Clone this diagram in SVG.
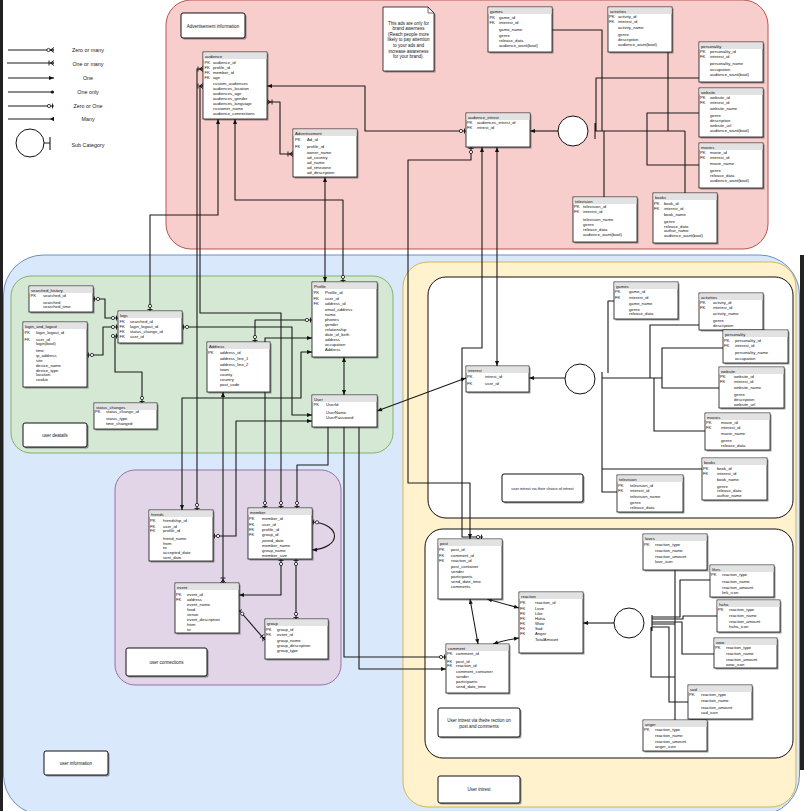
<svg xmlns="http://www.w3.org/2000/svg" width="804" height="811" viewBox="0 0 804 811">
<style>
.t{font-family:"Liberation Sans",Arial,sans-serif;font-size:4.2px;fill:#111}
.lb{font-family:"Liberation Sans",Arial,sans-serif;font-size:4.5px;fill:#111;text-anchor:middle}
.lg{font-family:"Liberation Sans",Arial,sans-serif;font-size:5.4px;fill:#222;text-anchor:middle}
.tb{fill:#fff;stroke:#111;stroke-width:0.8}
.hd{fill:#e2e2e2}
.sh{fill:#444;opacity:0.55}
.bx{fill:#fff;stroke:#111;stroke-width:1}
.c{fill:none;stroke:#1a1a1a;stroke-width:1.1;stroke-linejoin:round}
.ci{fill:#fff;stroke:#111;stroke-width:1}
</style>
<defs>
<marker id="zo" viewBox="0 -3 8 6" refX="8" refY="0" markerWidth="8" markerHeight="6" markerUnits="userSpaceOnUse" orient="auto-start-reverse"><circle cx="3" cy="0" r="1.6" fill="#fff" stroke="#111" stroke-width="0.8"/><path d="M6.5,-2.5V2.5" stroke="#111" stroke-width="0.9"/></marker>
<marker id="om" viewBox="0 -3 8 6" refX="8" refY="0" markerWidth="8" markerHeight="6" markerUnits="userSpaceOnUse" orient="auto-start-reverse"><path d="M3,-2.5V2.5M4.5,0L8,-2.5M4.5,0L8,2.5M4.5,0H8" stroke="#111" stroke-width="0.9" fill="none"/></marker>
<marker id="zm" viewBox="0 -3 8 6" refX="8" refY="0" markerWidth="8" markerHeight="6" markerUnits="userSpaceOnUse" orient="auto-start-reverse"><circle cx="2.5" cy="0" r="1.6" fill="#fff" stroke="#111" stroke-width="0.8"/><path d="M4.5,0L8,-2.5M4.5,0L8,2.5M4.5,0H8" stroke="#111" stroke-width="0.9" fill="none"/></marker>
<marker id="ar" viewBox="0 -3 8 6" refX="8" refY="0" markerWidth="8" markerHeight="6" markerUnits="userSpaceOnUse" orient="auto-start-reverse"><path d="M3,-2L8,0L3,2z" fill="#111"/></marker>
<marker id="dt" viewBox="0 -3 8 6" refX="8" refY="0" markerWidth="8" markerHeight="6" markerUnits="userSpaceOnUse" orient="auto-start-reverse"><circle cx="6.3" cy="0" r="1.6" fill="#111"/></marker>
<marker id="mn" viewBox="0 -3 8 6" refX="8" refY="0" markerWidth="8" markerHeight="6" markerUnits="userSpaceOnUse" orient="auto-start-reverse"><path d="M8,-2.2L4,0L8,2.2z" fill="#111"/></marker>
</defs>
<rect x="0" y="0" width="804" height="811" fill="#fff"/>
<rect x="0" y="0" width="3" height="811" fill="#222"/>
<rect x="800" y="255" width="4" height="515" fill="#222"/>

<g id="regions">
<rect x="166" y="0" width="602" height="249" rx="25" fill="#f8cecc" stroke="#b85450"/>
<rect x="3.5" y="255" width="796" height="560" rx="40" fill="#dae8fc" stroke="#6c8ebf"/>
<rect x="11" y="276" width="382" height="177" rx="20" fill="#d5e8d4" stroke="#82b366"/>
<rect x="115" y="470" width="226" height="215" rx="20" fill="#e1d5e7" stroke="#9673a6"/>
<rect x="403" y="262" width="393" height="545" rx="25" fill="#fff2cc" stroke="#d6b656"/>
<rect x="428" y="277" width="365" height="241" rx="18" fill="#fff" stroke="#111"/>
<rect x="425" y="529" width="368" height="229" rx="18" fill="#fff" stroke="#111"/>
</g>

<g id="legend">
<path class="c" d="M8,50H54" marker-end="url(#zm)"/>
<path class="c" d="M7,63H54" marker-end="url(#om)"/>
<path class="c" d="M8,78H54" marker-end="url(#ar)"/>
<path class="c" d="M8,92H54" marker-end="url(#dt)"/>
<path class="c" d="M8,106H54" marker-end="url(#zo)"/>
<path class="c" d="M8,119H54" marker-end="url(#mn)"/>
<text class="lg" x="88" y="52">Zero or many</text>
<text class="lg" x="88" y="65.5">One or many</text>
<text class="lg" x="88" y="79.5">One</text>
<text class="lg" x="88" y="94">One only</text>
<text class="lg" x="88" y="108">Zero or One</text>
<text class="lg" x="88" y="121">Many</text>
<circle class="ci" cx="30" cy="143" r="14"/>
<path class="c" d="M44,143H50M50,137V150"/>
<text class="lg" x="88" y="147">Sub Category</text>
</g>

<g id="connectors">
<path class="c" d="M267,86H365V131H466" marker-start="url(#ar)" marker-end="url(#zo)"/>
<path class="c" d="M267,102H280V154H293" marker-start="url(#om)" marker-end="url(#om)"/>
<path class="c" d="M218,119V215H150V311" marker-start="url(#ar)" marker-end="url(#zo)"/>
<path class="c" d="M235,119V200H343V282" marker-start="url(#ar)" marker-end="url(#zo)"/>
<path class="c" d="M325,177V282" marker-start="url(#ar)" marker-end="url(#ar)"/>
<path class="c" d="M203,69H197V510" marker-start="url(#om)" marker-end="url(#zo)"/>
<path class="c" d="M203,86H200V313H281V508" marker-start="url(#om)" marker-end="url(#zo)"/>
<path class="c" d="M558,131H530" marker-end="url(#ar)"/>
<path class="c" d="M595,123V139M595,131H685M552,30H602V131M668,52V131M699,78H596V131M699,113H647V165H699M604,197V131M685,193V131"/>
<path class="c" d="M471,147V160H408V483H470V539" marker-start="url(#zo)" marker-end="url(#ar)"/>
<path class="c" d="M482,147V348H462V537H483" marker-start="url(#ar)" marker-end="url(#zo)"/>
<path class="c" d="M497,147V366" marker-start="url(#ar)" marker-end="url(#ar)"/>
<path class="c" d="M93,299H105V318H118" marker-start="url(#zo)" marker-end="url(#zo)"/>
<path class="c" d="M87,355H103V327H118" marker-start="url(#zo)" marker-end="url(#zo)"/>
<path class="c" d="M118,336H115V372H142V403" marker-start="url(#zo)" marker-end="url(#zo)"/>
<path class="c" d="M182,327H292V415H312" marker-start="url(#zo)" marker-end="url(#ar)"/>
<path class="c" d="M312,320H255V342" marker-start="url(#zo)" marker-end="url(#zo)"/>
<path class="c" d="M312,338H265V508" marker-start="url(#ar)" marker-end="url(#zo)"/>
<path class="c" d="M312,352H301V398H182V510" marker-start="url(#ar)" marker-end="url(#ar)"/>
<path class="c" d="M344,357V395" marker-start="url(#ar)" marker-end="url(#ar)"/>
<path class="c" d="M223,392V583" marker-start="url(#ar)" marker-end="url(#om)"/>
<path class="c" d="M312,421H236V536H213" marker-start="url(#ar)" marker-end="url(#zo)"/>
<path class="c" d="M328,427V465H297V508" marker-end="url(#zo)"/>
<path class="c" d="M344,427V657H446" marker-end="url(#zo)"/>
<path class="c" d="M359,427V669H446" marker-end="url(#ar)"/>
<path class="c" d="M377,411L466,378" marker-start="url(#ar)" marker-end="url(#ar)"/>
<path class="c" d="M312,522C342,524 342,548 312,550" marker-start="url(#zo)" marker-end="url(#ar)"/>
<path class="c" d="M281,559V595H239" marker-start="url(#zo)" marker-end="url(#ar)"/>
<path class="c" d="M296,559V619" marker-start="url(#zo)" marker-end="url(#zo)"/>
<path class="c" d="M239,610L265,640" marker-start="url(#zo)" marker-end="url(#om)"/>
<path class="c" d="M565,378H529" marker-end="url(#ar)"/>
<path class="c" d="M602,372V386M602,378H662M614,301H608V373M699,325H650V378M723,348H662V388H719M705,431H654V378M702,469H602M617,492H602V378"/>
<path class="c" d="M470,599L478,644" marker-start="url(#ar)" marker-end="url(#ar)"/>
<path class="c" d="M487,599L519,608" marker-start="url(#ar)" marker-end="url(#ar)"/>
<path class="c" d="M493,644Q505,640 519,638" marker-start="url(#ar)" marker-end="url(#ar)"/>
<path class="c" d="M614,623H583" marker-end="url(#ar)"/>
<path class="c" d="M652,615V631M675,570V720M710,580H680V617H652M717,616H683V619H652M714,654H682V622H652M688,702H669V627H652M652,624H675M651,627V677H675"/>
<circle class="ci" cx="573" cy="131" r="15"/>
<circle class="ci" cx="580" cy="379" r="15"/>
<circle class="ci" cx="629" cy="623" r="15"/>
</g>

<g id="labels">
<rect class="sh" x="182.5" y="14.5" width="64" height="25" rx="2"/><rect class="bx" x="181" y="13" width="64" height="25" rx="2"/><text class="lb" x="213" y="27.5">Advertisement information</text>
<path class="sh" d="M384.5,8.5H429.5L435.5,14.5V72.5H384.5Z"/><path d="M383,7H428L434,13V71H383Z" fill="#fff" stroke="#111" stroke-width="0.8"/><path d="M428,7V13H434" fill="none" stroke="#111" stroke-width="0.6"/>
<text class="lb" x="408.5" y="25">This ads are only for</text>
<text class="lb" x="408.5" y="30">brand awerness</text>
<text class="lb" x="408.5" y="36">(Reach people more</text>
<text class="lb" x="408.5" y="41">likely to pay attention</text>
<text class="lb" x="408.5" y="46.6">to your ads and</text>
<text class="lb" x="408.5" y="52.6">increase awareness</text>
<text class="lb" x="408.5" y="58">for your brand).</text>
<rect class="sh" x="24.5" y="424.5" width="64" height="24" rx="2"/><rect class="bx" x="23" y="423" width="64" height="24" rx="2"/><text class="lb" x="55" y="436.5">user deatails</text>
<rect class="sh" x="127.5" y="649.5" width="81" height="28" rx="2"/><rect class="bx" x="126" y="648" width="81" height="28" rx="2"/><text class="lb" x="166.5" y="663.5">user connections</text>
<rect class="sh" x="45.5" y="752.5" width="64" height="24" rx="2"/><rect class="bx" x="44" y="751" width="64" height="24" rx="2"/><text class="lb" x="76" y="764.5">user information</text>
<rect class="sh" x="503.5" y="475.5" width="81" height="28" rx="2"/><rect class="bx" x="502" y="474" width="81" height="28" rx="2"/><text class="lb" x="542.5" y="489.5" style="font-size:3.9px">user intrest via their choice of intrest</text>
<rect class="sh" x="439.5" y="709.5" width="82" height="29" rx="2"/><rect class="bx" x="438" y="708" width="82" height="29" rx="2"/><text class="lb" x="479" y="721.6">User intrest via theire rection on</text><text class="lb" x="479" y="727.6">post and comments</text>
<rect class="sh" x="439.5" y="777.5" width="82" height="27" rx="2"/><rect class="bx" x="438" y="776" width="82" height="27" rx="2"/><text class="lb" x="479" y="791">User intrest</text>
</g>

<g id="audience"><rect class="sh" x="204.5" y="53.5" width="64" height="67"/><rect class="tb" x="203" y="52" width="64" height="67"/><rect class="hd" x="203.4" y="52.4" width="63.2" height="6.6"/><text class="t" x="205" y="57.5">audience</text>
<text class="t" x="204.5" y="64">PK</text><text class="t" x="213" y="64">audience_id</text>
<text class="t" x="204.5" y="68.8">FK</text><text class="t" x="213" y="68.8">profile_id</text>
<text class="t" x="204.5" y="73.8">FK</text><text class="t" x="213" y="73.8">member_id</text>
<text class="t" x="204.5" y="78.8">FK</text><text class="t" x="213" y="78.8">age</text>
<text class="t" x="213" y="84.8">custom_audiences</text><text class="t" x="213" y="89.8">audiences_location</text><text class="t" x="213" y="94.8">audiences_age</text><text class="t" x="213" y="99.8">audiences_gender</text><text class="t" x="213" y="104.8">audiences_language</text><text class="t" x="213" y="109.8">customer_name</text><text class="t" x="213" y="114.8">audience_connections</text></g>

<g id="advertisement"><rect class="sh" x="294.5" y="130.5" width="64" height="48"/><rect class="tb" x="293" y="129" width="64" height="48"/><rect class="hd" x="293.4" y="129.4" width="63.2" height="6.6"/><text class="t" x="295" y="134.5">Advertisement</text>
<text class="t" x="295" y="141">PK</text><text class="t" x="307" y="141">Ad_id</text>
<text class="t" x="295" y="147.8">FK</text><text class="t" x="307" y="147.8">profile_id</text>
<text class="t" x="307" y="153.5">owner_name</text><text class="t" x="307" y="158.5">ad_country</text><text class="t" x="307" y="163.5">ad_name</text><text class="t" x="307" y="168.5">ad_timezone</text><text class="t" x="307" y="173.5">ad_description</text></g>

<g id="ad-games"><rect class="sh" x="489.5" y="8.5" width="64" height="45"/><rect class="tb" x="488" y="7" width="64" height="45"/><rect class="hd" x="488.4" y="7.4" width="63.2" height="6.6"/><text class="t" x="490" y="12.5">games</text>
<text class="t" x="489.5" y="18.5">PK</text><text class="t" x="499" y="18.5">game_id</text>
<text class="t" x="489.5" y="23.5">FK</text><text class="t" x="499" y="23.5">interest_id</text>
<text class="t" x="499" y="31">game_name</text><text class="t" x="499" y="36.5">genre</text><text class="t" x="499" y="41.5">release_data</text><text class="t" x="499" y="46.5">audience_want(bool)</text></g>

<g id="audience_intrest"><rect class="sh" x="467.5" y="114.5" width="64" height="34"/><rect class="tb" x="466" y="113" width="64" height="34"/><rect class="hd" x="466.4" y="113.4" width="63.2" height="6.6"/><text class="t" x="468" y="118.5">audience_intrest</text>
<text class="t" x="467" y="124">PK</text><text class="t" x="477" y="124">audiences_intrest_id</text>
<text class="t" x="467" y="129">FK</text><text class="t" x="477" y="129">intrest_id</text></g>

<g id="ad-television"><rect class="sh" x="574.5" y="198.5" width="64" height="45"/><rect class="tb" x="573" y="197" width="64" height="45"/><rect class="hd" x="573.4" y="197.4" width="63.2" height="6.6"/><text class="t" x="575" y="202.5">television</text>
<text class="t" x="574" y="208">PK</text><text class="t" x="583" y="208">television_id</text>
<text class="t" x="574" y="213">FK</text><text class="t" x="583" y="213">interest_id</text>
<text class="t" x="583" y="220.5">television_name</text><text class="t" x="583" y="226">genre</text><text class="t" x="583" y="231">release_data</text><text class="t" x="583" y="236">audience_want(bool)</text></g>

<g id="ad-activities"><rect class="sh" x="609.5" y="8.5" width="64" height="45"/><rect class="tb" x="608" y="7" width="64" height="45"/><rect class="hd" x="608.4" y="7.4" width="63.2" height="6.6"/><text class="t" x="610" y="12.5">activities</text>
<text class="t" x="609" y="17.5">PK</text><text class="t" x="618" y="17.5">activity_id</text>
<text class="t" x="609" y="22.5">FK</text><text class="t" x="618" y="22.5">interest_id</text>
<text class="t" x="618" y="29.2">activity_name</text><text class="t" x="618" y="35.5">genre</text><text class="t" x="618" y="40.5">description</text><text class="t" x="618" y="45.5">audience_want(bool)</text></g>

<g id="ad-personality"><rect class="sh" x="700.5" y="43.5" width="64" height="40"/><rect class="tb" x="699" y="42" width="64" height="40"/><rect class="hd" x="699.4" y="42.4" width="63.2" height="6.6"/><text class="t" x="701" y="47.5">personality</text>
<text class="t" x="700" y="53.2">PK</text><text class="t" x="710" y="53.2">personality_id</text>
<text class="t" x="700" y="58.2">FK</text><text class="t" x="710" y="58.2">interest_id</text>
<text class="t" x="710" y="64.5">personality_name</text><text class="t" x="710" y="70.5">occupation</text><text class="t" x="710" y="76.2">audience_want(bool)</text></g>

<g id="ad-website"><rect class="sh" x="700.5" y="89.5" width="64" height="49"/><rect class="tb" x="699" y="88" width="64" height="49"/><rect class="hd" x="699.4" y="88.4" width="63.2" height="6.6"/><text class="t" x="701" y="93.5">website</text>
<text class="t" x="700" y="99.2">PK</text><text class="t" x="710" y="99.2">website_id</text>
<text class="t" x="700" y="104.2">FK</text><text class="t" x="710" y="104.2">interest_id</text>
<text class="t" x="710" y="109.8">website_name</text><text class="t" x="710" y="117.2">genre</text><text class="t" x="710" y="122.2">description</text><text class="t" x="710" y="127.2">website_url</text><text class="t" x="710" y="132.2">audience_want(bool)</text></g>

<g id="ad-movies"><rect class="sh" x="700.5" y="144.5" width="64" height="45"/><rect class="tb" x="699" y="143" width="64" height="45"/><rect class="hd" x="699.4" y="143.4" width="63.2" height="6.6"/><text class="t" x="701" y="148.5">movies</text>
<text class="t" x="700" y="154.2">PK</text><text class="t" x="710" y="154.2">movie_id</text>
<text class="t" x="700" y="159.2">FK</text><text class="t" x="710" y="159.2">interest_id</text>
<text class="t" x="710" y="165.2">movie_name</text><text class="t" x="710" y="171.5">genre</text><text class="t" x="710" y="176.5">release_data</text><text class="t" x="710" y="181.5">audience_want(bool)</text></g>

<g id="ad-books"><rect class="sh" x="654.5" y="194.5" width="64" height="50"/><rect class="tb" x="653" y="193" width="64" height="50"/><rect class="hd" x="653.4" y="193.4" width="63.2" height="6.6"/><text class="t" x="655" y="198.5">books</text>
<text class="t" x="654" y="204.5">PK</text><text class="t" x="664" y="204.5">book_id</text>
<text class="t" x="654" y="209.5">FK</text><text class="t" x="664" y="209.5">interest_id</text>
<text class="t" x="664" y="216.2">book_name</text><text class="t" x="664" y="222.5">genre</text><text class="t" x="664" y="227.5">release_data</text><text class="t" x="664" y="232.2">author_name</text><text class="t" x="664" y="237.2">audience_want(bool)</text></g>

<g id="searched_history"><rect class="sh" x="30.5" y="287.5" width="64" height="26"/><rect class="tb" x="29" y="286" width="64" height="26"/><rect class="hd" x="29.4" y="286.4" width="63.2" height="6.6"/><text class="t" x="31" y="291.5">searched_history</text>
<text class="t" x="30.5" y="296.5">PK</text><text class="t" x="43" y="296.5">searched_id</text>
<text class="t" x="43" y="303.5">searched</text><text class="t" x="43" y="308.2">searched_time</text></g>

<g id="login_and_logout"><rect class="sh" x="24.5" y="323.5" width="64" height="65"/><rect class="tb" x="23" y="322" width="64" height="65"/><rect class="hd" x="23.4" y="322.4" width="63.2" height="6.6"/><text class="t" x="25" y="327.5">login_and_logout</text>
<text class="t" x="24.5" y="333.5">PK</text><text class="t" x="36" y="333.5">login_logout_id</text>
<text class="t" x="24.5" y="341.2">FK</text><text class="t" x="36" y="341.2">user_id</text>
<text class="t" x="36" y="345.2">login(bool)</text><text class="t" x="36" y="352.2">time</text><text class="t" x="36" y="357.2">ip_address</text><text class="t" x="36" y="361.8">site</text><text class="t" x="36" y="367.2">device_name</text><text class="t" x="36" y="372.2">device_type</text><text class="t" x="36" y="376.2">location</text><text class="t" x="36" y="381.2">cookie</text></g>

<g id="logs"><rect class="sh" x="119.5" y="312.5" width="64" height="32"/><rect class="tb" x="118" y="311" width="64" height="32"/><rect class="hd" x="118.4" y="311.4" width="63.2" height="6.6"/><text class="t" x="120" y="316.5">logs</text>
<text class="t" x="119.5" y="323.2">FK</text><text class="t" x="130" y="323.2">searched_id</text>
<text class="t" x="119.5" y="327.8">FK</text><text class="t" x="130" y="327.8">login_logout_id</text>
<text class="t" x="119.5" y="332.5">FK</text><text class="t" x="130" y="332.5">status_change_id</text>
<text class="t" x="119.5" y="337.5">FK</text><text class="t" x="130" y="337.5">user_id</text></g>

<g id="status_changes"><rect class="sh" x="95.5" y="404.5" width="63" height="26"/><rect class="tb" x="94" y="403" width="63" height="26"/><rect class="hd" x="94.4" y="403.4" width="62.2" height="6.6"/><text class="t" x="96" y="408.5">status_changes</text>
<text class="t" x="95" y="413.2">PK</text><text class="t" x="106" y="413.2">status_change_id</text>
<text class="t" x="106" y="419.8">status_type</text><text class="t" x="106" y="424.8">time_changed</text></g>

<g id="profile"><rect class="sh" x="313.5" y="283.5" width="65" height="75"/><rect class="tb" x="312" y="282" width="65" height="75"/><rect class="hd" x="312.4" y="282.4" width="64.2" height="6.6"/><text class="t" x="314" y="287.5">Profile</text>
<text class="t" x="313.5" y="293.5">PK</text><text class="t" x="325" y="293.5">Profile_id</text>
<text class="t" x="313.5" y="299.8">FK</text><text class="t" x="325" y="299.8">user_id</text>
<text class="t" x="313.5" y="304.8">FK</text><text class="t" x="325" y="304.8">address_id</text>
<text class="t" x="325" y="310.5">email_address</text><text class="t" x="325" y="315.5">name</text><text class="t" x="325" y="320.5">phones</text><text class="t" x="325" y="325.5">gender</text><text class="t" x="325" y="330.5">relationship</text><text class="t" x="325" y="335.5">date_of_birth</text><text class="t" x="325" y="340.5">address</text><text class="t" x="325" y="345.5">occupation</text><text class="t" x="325" y="350.5">Address</text></g>

<g id="address"><rect class="sh" x="208.5" y="343.5" width="63" height="50"/><rect class="tb" x="207" y="342" width="63" height="50"/><rect class="hd" x="207.4" y="342.4" width="62.2" height="6.6"/><text class="t" x="209" y="347.5">Address</text>
<text class="t" x="208" y="353.8">PK</text><text class="t" x="220" y="353.8">address_id</text>
<text class="t" x="220" y="359.8">address_line_1</text><text class="t" x="220" y="365.8">address_line_2</text><text class="t" x="220" y="370.8">town</text><text class="t" x="220" y="375.8">county</text><text class="t" x="220" y="380.8">country</text><text class="t" x="220" y="385.8">post_code</text></g>

<g id="user"><rect class="sh" x="313.5" y="396.5" width="65" height="32"/><rect class="tb" x="312" y="395" width="65" height="32"/><rect class="hd" x="312.4" y="395.4" width="64.2" height="6.6"/><text class="t" x="314" y="400.5">User</text>
<text class="t" x="313.5" y="405.5">PK</text><text class="t" x="326" y="405.5">UserId</text>
<text class="t" x="326" y="413.8">UserName</text><text class="t" x="326" y="418.8">UserPassword</text></g>

<g id="interest"><rect class="sh" x="467.5" y="367.5" width="63" height="26"/><rect class="tb" x="466" y="366" width="63" height="26"/><rect class="hd" x="466.4" y="366.4" width="62.2" height="6.6"/><text class="t" x="468" y="371.5">interest</text>
<text class="t" x="467" y="378.2">PK</text><text class="t" x="485" y="378.2">intrest_id</text>
<text class="t" x="467" y="385.2">FK</text><text class="t" x="485" y="385.2">user_id</text></g>

<g id="games"><rect class="sh" x="615.5" y="283.5" width="64" height="37"/><rect class="tb" x="614" y="282" width="64" height="37"/><rect class="hd" x="614.4" y="282.4" width="63.2" height="6.6"/><text class="t" x="616" y="287.5">games</text>
<text class="t" x="615" y="293.2">PK</text><text class="t" x="629" y="293.2">game_id</text>
<text class="t" x="615" y="298.8">FK</text><text class="t" x="629" y="298.8">interest_id</text>
<text class="t" x="629" y="304.8">game_name</text><text class="t" x="629" y="310.5">genre</text><text class="t" x="629" y="315.2">release_data</text></g>

<g id="activities"><rect class="sh" x="700.5" y="294.5" width="64" height="37"/><rect class="tb" x="699" y="293" width="64" height="37"/><rect class="hd" x="699.4" y="293.4" width="63.2" height="6.6"/><text class="t" x="701" y="298.5">activities</text>
<text class="t" x="700" y="303.8">PK</text><text class="t" x="713" y="303.8">activity_id</text>
<text class="t" x="700" y="308.8">FK</text><text class="t" x="713" y="308.8">interest_id</text>
<text class="t" x="713" y="315.2">activity_name</text><text class="t" x="713" y="321.5">genre</text><text class="t" x="713" y="326.8">description</text></g>

<g id="personality"><rect class="sh" x="724.5" y="331.5" width="65" height="33"/><rect class="tb" x="723" y="330" width="65" height="33"/><rect class="hd" x="723.4" y="330.4" width="64.2" height="6.6"/><text class="t" x="725" y="335.5">personality</text>
<text class="t" x="724" y="342.2">PK</text><text class="t" x="735" y="342.2">personality_id</text>
<text class="t" x="724" y="346.8">FK</text><text class="t" x="735" y="346.8">interest_id</text>
<text class="t" x="735" y="353.8">personality_name</text><text class="t" x="735" y="360.2">occupation</text></g>

<g id="website"><rect class="sh" x="720.5" y="368.5" width="65" height="41"/><rect class="tb" x="719" y="367" width="65" height="41"/><rect class="hd" x="719.4" y="367.4" width="64.2" height="6.6"/><text class="t" x="721" y="372.5">website</text>
<text class="t" x="720" y="378.2">PK</text><text class="t" x="734" y="378.2">website_id</text>
<text class="t" x="720" y="383.2">FK</text><text class="t" x="734" y="383.2">interest_id</text>
<text class="t" x="734" y="388.8">website_name</text><text class="t" x="734" y="395.8">genre</text><text class="t" x="734" y="400.5">description</text><text class="t" x="734" y="405.5">website_url</text></g>

<g id="movies"><rect class="sh" x="706.5" y="414.5" width="65" height="37"/><rect class="tb" x="705" y="413" width="65" height="37"/><rect class="hd" x="705.4" y="413.4" width="64.2" height="6.6"/><text class="t" x="707" y="418.5">movies</text>
<text class="t" x="706" y="423.8">PK</text><text class="t" x="721" y="423.8">movie_id</text>
<text class="t" x="706" y="429.2">FK</text><text class="t" x="721" y="429.2">interest_id</text>
<text class="t" x="721" y="435.2">movie_name</text><text class="t" x="721" y="441.8">genre</text><text class="t" x="721" y="446.8">release_data</text></g>

<g id="books"><rect class="sh" x="703.5" y="459.5" width="65" height="42"/><rect class="tb" x="702" y="458" width="65" height="42"/><rect class="hd" x="702.4" y="458.4" width="64.2" height="6.6"/><text class="t" x="704" y="463.5">books</text>
<text class="t" x="703" y="469.8">PK</text><text class="t" x="717" y="469.8">book_id</text>
<text class="t" x="703" y="474.5">FK</text><text class="t" x="717" y="474.5">interest_id</text>
<text class="t" x="717" y="480.8">book_name</text><text class="t" x="717" y="487.5">genre</text><text class="t" x="717" y="492.2">release_data</text><text class="t" x="717" y="496.8">author_name</text></g>

<g id="television"><rect class="sh" x="618.5" y="476.5" width="66" height="37"/><rect class="tb" x="617" y="475" width="66" height="37"/><rect class="hd" x="617.4" y="475.4" width="65.2" height="6.6"/><text class="t" x="619" y="480.5">television</text>
<text class="t" x="618" y="487.2">PK</text><text class="t" x="630" y="487.2">television_id</text>
<text class="t" x="618" y="492.2">FK</text><text class="t" x="630" y="492.2">interest_id</text>
<text class="t" x="630" y="498.2">television_name</text><text class="t" x="630" y="503.8">genre</text><text class="t" x="630" y="509.2">release_data</text></g>

<g id="friends"><rect class="sh" x="150.5" y="511.5" width="64" height="51"/><rect class="tb" x="149" y="510" width="64" height="51"/><rect class="hd" x="149.4" y="510.4" width="63.2" height="6.6"/><text class="t" x="151" y="515.5">friends</text>
<text class="t" x="150" y="522.2">PK</text><text class="t" x="163" y="522.2">friendship_id</text>
<text class="t" x="150" y="527.8">FK</text><text class="t" x="163" y="527.8">user_id</text>
<text class="t" x="150" y="532.2">FK</text><text class="t" x="163" y="532.2">profile_id</text>
<text class="t" x="163" y="540.2">friend_name</text><text class="t" x="163" y="544.8">from</text><text class="t" x="163" y="549.2">to</text><text class="t" x="163" y="554.2">accepted_date</text><text class="t" x="163" y="558.8">sent_date</text></g>

<g id="member"><rect class="sh" x="249.5" y="509.5" width="64" height="51"/><rect class="tb" x="248" y="508" width="64" height="51"/><rect class="hd" x="248.4" y="508.4" width="63.2" height="6.6"/><text class="t" x="250" y="513.5">member</text>
<text class="t" x="249" y="520.2">PK</text><text class="t" x="262" y="520.2">member_id</text>
<text class="t" x="249" y="526.2">FK</text><text class="t" x="262" y="526.2">user_id</text>
<text class="t" x="249" y="531.2">FK</text><text class="t" x="262" y="531.2">profile_id</text>
<text class="t" x="249" y="536.2">FK</text><text class="t" x="262" y="536.2">group_id</text>
<text class="t" x="262" y="541.5">joined_date</text><text class="t" x="262" y="546.5">member_name</text><text class="t" x="262" y="551.8">group_name</text><text class="t" x="262" y="557.2">member_size</text></g>

<g id="event"><rect class="sh" x="176.5" y="584.5" width="64" height="50"/><rect class="tb" x="175" y="583" width="64" height="50"/><rect class="hd" x="175.4" y="583.4" width="63.2" height="6.6"/><text class="t" x="177" y="588.5">event</text>
<text class="t" x="176" y="595.5">PK</text><text class="t" x="187" y="595.5">event_id</text>
<text class="t" x="176" y="600.5">FK</text><text class="t" x="187" y="600.5">address</text>
<text class="t" x="187" y="606.2">event_name</text><text class="t" x="187" y="610.8">food</text><text class="t" x="187" y="615.5">venue</text><text class="t" x="187" y="620.8">event_description</text><text class="t" x="187" y="625.5">from</text><text class="t" x="187" y="630.8">to</text></g>

<g id="group"><rect class="sh" x="266.5" y="620.5" width="63" height="40"/><rect class="tb" x="265" y="619" width="63" height="40"/><rect class="hd" x="265.4" y="619.4" width="62.2" height="6.6"/><text class="t" x="267" y="624.5">group</text>
<text class="t" x="266" y="630.8">PK</text><text class="t" x="277" y="630.8">group_id</text>
<text class="t" x="266" y="635.8">FK</text><text class="t" x="277" y="635.8">event_id</text>
<text class="t" x="277" y="642.2">group_name</text><text class="t" x="277" y="647.2">group_description</text><text class="t" x="277" y="652.2">group_type</text></g>

<g id="post"><rect class="sh" x="439.5" y="540.5" width="64" height="60"/><rect class="tb" x="438" y="539" width="64" height="60"/><rect class="hd" x="438.4" y="539.4" width="63.2" height="6.6"/><text class="t" x="440" y="544.5">post</text>
<text class="t" x="439" y="550.8">PK</text><text class="t" x="451" y="550.8">post_id</text>
<text class="t" x="439" y="556.5">FK</text><text class="t" x="451" y="556.5">comment_id</text>
<text class="t" x="439" y="561.5">FK</text><text class="t" x="451" y="561.5">reaction_id</text>
<text class="t" x="451" y="568.2">post_container</text><text class="t" x="451" y="573.2">sender</text><text class="t" x="451" y="578.2">participants</text><text class="t" x="451" y="583.2">send_date_time</text><text class="t" x="451" y="588.2">comments</text></g>

<g id="reaction"><rect class="sh" x="520.5" y="593.5" width="64" height="61"/><rect class="tb" x="519" y="592" width="64" height="61"/><rect class="hd" x="519.4" y="592.4" width="63.2" height="6.6"/><text class="t" x="521" y="597.5">reaction</text>
<text class="t" x="520" y="603.8">PK</text><text class="t" x="535" y="603.8">reaction_id</text>
<text class="t" x="520" y="609.8">FK</text><text class="t" x="535" y="609.8">Love</text>
<text class="t" x="520" y="614.8">FK</text><text class="t" x="535" y="614.8">Like</text>
<text class="t" x="520" y="619.8">FK</text><text class="t" x="535" y="619.8">Haha</text>
<text class="t" x="520" y="624.8">FK</text><text class="t" x="535" y="624.8">Wow</text>
<text class="t" x="520" y="629.8">FK</text><text class="t" x="535" y="629.8">Sad</text>
<text class="t" x="520" y="634.8">FK</text><text class="t" x="535" y="634.8">Anger</text>
<text class="t" x="535" y="640.5">TotalAmount</text></g>

<g id="comment"><rect class="sh" x="447.5" y="645.5" width="63" height="49"/><rect class="tb" x="446" y="644" width="63" height="49"/><rect class="hd" x="446.4" y="644.4" width="62.2" height="6.6"/><text class="t" x="448" y="649.5">comment</text>
<text class="t" x="447" y="654.8">PK</text><text class="t" x="456" y="654.8">comment_id</text>
<text class="t" x="447" y="662.8">FK</text><text class="t" x="456" y="662.8">post_id</text>
<text class="t" x="447" y="667.2">FK</text><text class="t" x="456" y="667.2">reaction_id</text>
<text class="t" x="456" y="673.2">comment_container</text><text class="t" x="456" y="677.8">sender</text><text class="t" x="456" y="682.8">participants</text><text class="t" x="456" y="687.5">send_date_time</text></g>

<g id="loves"><rect class="sh" x="644.5" y="535.5" width="64" height="36"/><rect class="tb" x="643" y="534" width="64" height="36"/><rect class="hd" x="643.4" y="534.4" width="63.2" height="6.6"/><text class="t" x="645" y="539.5">loves</text>
<text class="t" x="644" y="545.5">PK</text><text class="t" x="655" y="545.5">reaction_type</text>
<text class="t" x="655" y="552.2">reaction_name</text><text class="t" x="655" y="557.8">reaction_amount</text><text class="t" x="655" y="563.2">love_icon</text></g>

<g id="likes"><rect class="sh" x="711.5" y="566.5" width="64" height="32"/><rect class="tb" x="710" y="565" width="64" height="32"/><rect class="hd" x="710.4" y="565.4" width="63.2" height="6.6"/><text class="t" x="712" y="570.5">likes</text>
<text class="t" x="711" y="575.8">PK</text><text class="t" x="722" y="575.8">reaction_type</text>
<text class="t" x="722" y="583.2">reaction_name</text><text class="t" x="722" y="589.2">reaction_amount</text><text class="t" x="722" y="593.8">link_icon</text></g>

<g id="haha"><rect class="sh" x="718.5" y="601.5" width="63" height="32"/><rect class="tb" x="717" y="600" width="63" height="32"/><rect class="hd" x="717.4" y="600.4" width="62.2" height="6.6"/><text class="t" x="719" y="605.5">haha</text>
<text class="t" x="718" y="610.8">PK</text><text class="t" x="729" y="610.8">reaction_type</text>
<text class="t" x="729" y="617.2">reaction_name</text><text class="t" x="729" y="623.2">reaction_amount</text><text class="t" x="729" y="628.2">haha_icon</text></g>

<g id="wow"><rect class="sh" x="715.5" y="639.5" width="63" height="30"/><rect class="tb" x="714" y="638" width="63" height="30"/><rect class="hd" x="714.4" y="638.4" width="62.2" height="6.6"/><text class="t" x="716" y="643.5">wow</text>
<text class="t" x="715" y="648.8">PK</text><text class="t" x="726" y="648.8">reaction_type</text>
<text class="t" x="726" y="654.8">reaction_name</text><text class="t" x="726" y="660.8">reaction_amount</text><text class="t" x="726" y="665.8">wow_icon</text></g>

<g id="sad"><rect class="sh" x="689.5" y="686.5" width="64" height="34"/><rect class="tb" x="688" y="685" width="64" height="34"/><rect class="hd" x="688.4" y="685.4" width="63.2" height="6.6"/><text class="t" x="690" y="690.5">sad</text>
<text class="t" x="689" y="695.8">PK</text><text class="t" x="701" y="695.8">reaction_type</text>
<text class="t" x="701" y="701.8">reaction_name</text><text class="t" x="701" y="708.8">reaction_amount</text><text class="t" x="701" y="714.2">sad_icon</text></g>

<g id="anger"><rect class="sh" x="644.5" y="721.5" width="64" height="31"/><rect class="tb" x="643" y="720" width="64" height="31"/><rect class="hd" x="643.4" y="720.4" width="63.2" height="6.6"/><text class="t" x="645" y="725.5">anger</text>
<text class="t" x="644" y="730.8">PK</text><text class="t" x="655" y="730.8">reaction_type</text>
<text class="t" x="655" y="737.2">reaction_name</text><text class="t" x="655" y="743.2">reaction_amount</text><text class="t" x="655" y="748.2">anger_icon</text></g>
</svg>
